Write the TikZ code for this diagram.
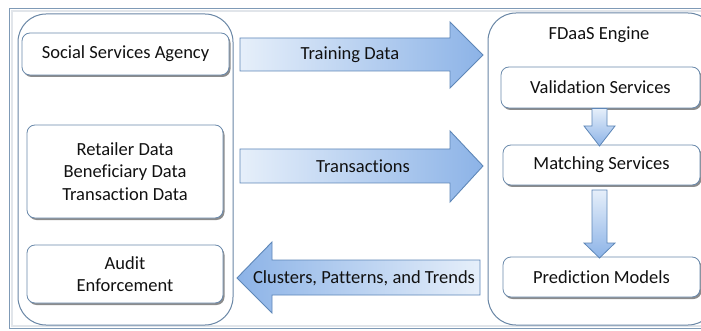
\documentclass[tikz,border=0pt]{standalone}
\usepackage{fontspec}
\setmainfont{Carlito}[Ligatures=NoCommon]
\usetikzlibrary{shadows}
\definecolor{framec}{HTML}{7F9AB6}
\definecolor{framein}{HTML}{E1E5EA}
\definecolor{contc}{HTML}{6A87A6}
\definecolor{boxc}{HTML}{6B8AAC}
\definecolor{arrc}{HTML}{5E87B8}
\definecolor{arrlight}{HTML}{E6EFFA}
\definecolor{arrdark}{HTML}{8CB3E7}
\definecolor{txt}{HTML}{111111}
\tikzset{
  container/.style={draw=contc, line width=1pt, rounded corners=28pt, fill=white},
  box/.style={draw=boxc, line width=0.8pt, fill=white, rounded corners=8pt, align=center, inner sep=0pt,
    text=txt, drop shadow={shadow xshift=1.5pt, shadow yshift=-2pt, fill=black, opacity=0.45}},
  blockarrow/.style={draw=arrc, line width=0.9pt, line join=miter},
  lbl/.style={text=txt, inner sep=0pt}
}
\begin{document}
\begin{tikzpicture}[x=1pt,y=-1pt, font=\fontsize{18.5}{22.5}\selectfont]
\useasboundingbox (0,0) rectangle (701,331);
\begin{scope}
\clip (0,0) rectangle (701,331);
\fill[white] (0,0) rectangle (701,331);
% outer frame
\draw[framein, line width=2pt] (12,11) rectangle (720,326);
\draw[framec, line width=1pt] (9.5,8.5) rectangle (722,328.5);
% containers
\draw[container] (18,14) rectangle (233,325);
\draw[container] (488,13) rectangle (716,325);
% left boxes
\node[box, minimum width=207pt, minimum height=42pt] (ssa) at (125.5,54) {Social Services Agency};
\node[box, minimum width=196pt, minimum height=93pt] (data) at (125,171.5) {Retailer Data\\Beneficiary Data\\Transaction Data};
\node[box, minimum width=196pt, minimum height=58pt] (audit) at (125,274) {Audit\\Enforcement};
% right boxes
\node[lbl] (engine) at (599,35) {FDaaS Engine};
\node[box, minimum width=199pt, minimum height=41pt] (valid) at (600.5,87.5) {Validation Services};
\node[box, minimum width=197pt, minimum height=40pt] (match) at (601.5,165) {Matching Services};
\node[box, minimum width=197pt, minimum height=40pt] (pred) at (601.5,277) {Prediction Models};
% small vertical arrows
\shade[top color=arrlight, bottom color=arrdark, draw=arrc, line width=0.8pt, line join=miter]
  (592,108.5) -- (607,108.5) -- (607,126) -- (615,126) -- (599.5,146) -- (584,126) -- (592,126) -- cycle;
\shade[top color=arrlight, bottom color=arrdark, draw=arrc, line width=0.8pt, line join=miter]
  (592,190) -- (607,190) -- (607,243) -- (615,243) -- (599.5,258) -- (584,243) -- (592,243) -- cycle;
% big arrows
\shade[blockarrow, left color=arrlight, right color=arrdark]
  (240,38) -- (450,38) -- (450,22) -- (483,55) -- (450,88) -- (450,71) -- (240,71) -- cycle;
\shade[blockarrow, left color=arrlight, right color=arrdark]
  (240,149) -- (450,149) -- (450,131) -- (483,166) -- (450,202) -- (450,183) -- (240,183) -- cycle;
\shade[blockarrow, left color=arrdark, right color=arrlight]
  (480,260) -- (272,260) -- (272,242) -- (237,278) -- (272,313) -- (272,295) -- (480,295) -- cycle;
\node[lbl] (train) at (350,55) {Training Data};
\node[lbl] (trans) at (363,166) {Transactions};
\node[lbl] (clust) at (364,278) {Clusters, Patterns, and Trends};
\end{scope}
\end{tikzpicture}
\end{document}
